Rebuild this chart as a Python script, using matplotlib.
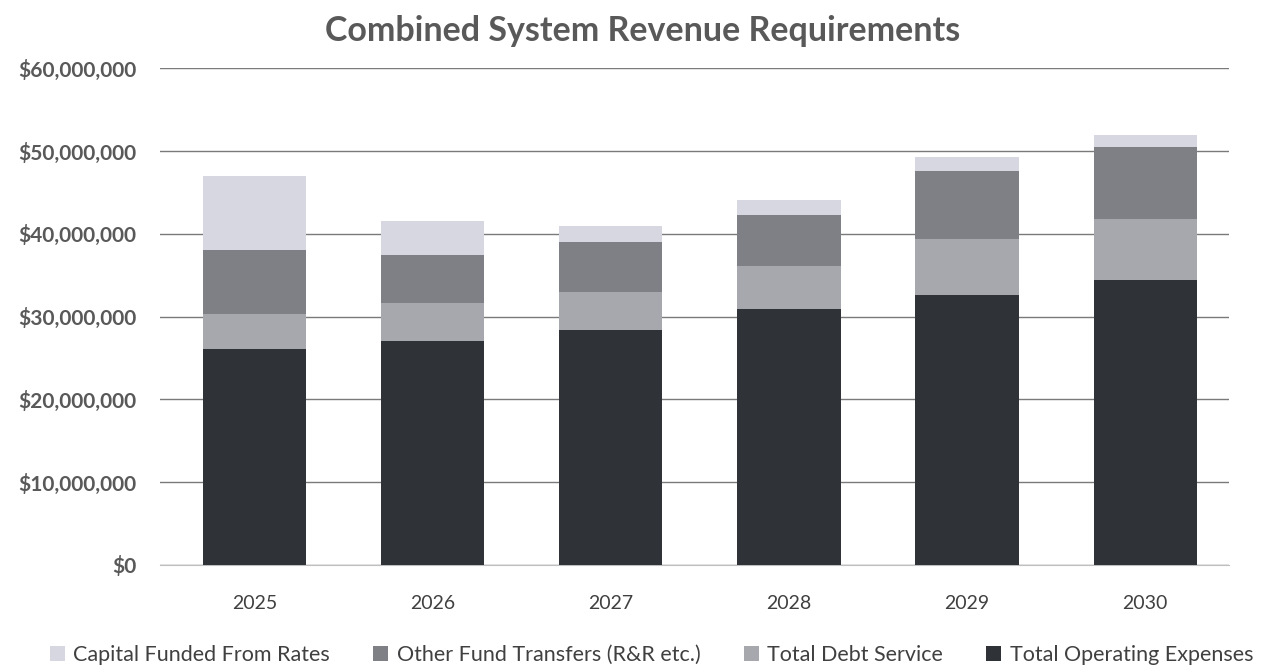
import matplotlib.pyplot as plt
import numpy as np

plt.rcParams['font.family'] = ['Lato', 'DejaVu Sans']

years = ["2025", "2026", "2027", "2028", "2029", "2030"]

# stacked components, in $ millions
operating = [26.1, 27.1, 28.4, 30.9, 32.6, 34.4]
debt_service = [4.2, 4.6, 4.6, 5.2, 6.8, 7.4]
other_transfers = [7.8, 5.8, 6.0, 6.2, 8.2, 8.7]
capital = [8.85, 4.0, 1.9, 1.8, 1.65, 1.5]

labels = ["Capital Funded From Rates", "Other Fund Transfers (R&R etc.)",
          "Total Debt Service", "Total Operating Expenses"]
colors = ["#d7d7e1", "#7f7f86", "#a7a7ae", "#2f3237"]

fig = plt.figure(figsize=(12.65, 6.7), dpi=100)
ax = fig.add_axes([0.1265, 0.157, 0.845, 0.741])

x = np.arange(len(years))
w = 0.58
scale = 1e6

op = np.array(operating) * scale
ds = np.array(debt_service) * scale
ot = np.array(other_transfers) * scale
cp = np.array(capital) * scale

b_op = ax.bar(x, op, w, color=colors[3], zorder=3)
b_ds = ax.bar(x, ds, w, bottom=op, color=colors[2], zorder=3)
b_ot = ax.bar(x, ot, w, bottom=op + ds, color=colors[1], zorder=3)
b_cp = ax.bar(x, cp, w, bottom=op + ds + ot, color=colors[0], zorder=3)

ax.set_xlim(-0.53, len(years) - 0.53)
ax.set_ylim(0, 60e6)
ax.set_yticks(np.arange(0, 60e6 + 1, 10e6))
ax.yaxis.set_major_formatter(plt.FuncFormatter(lambda v, p: f"${v:,.0f}"))
ax.set_xticks(x)
ax.set_xticklabels(years)

ax.grid(axis="y", color="#7a7a7a", linewidth=1.0, zorder=0)
for side in ["top", "right", "left"]:
    ax.spines[side].set_visible(False)
ax.spines["bottom"].set_color("#bfbfbf")
ax.tick_params(axis="y", length=0, pad=24, labelsize=15, labelcolor="#595959")
ax.tick_params(axis="x", length=0, pad=22, labelsize=14, labelcolor="#404040")
for t in ax.get_yticklabels():
    t.set_fontweight("bold")
    t.set_x(0.0)
ax.yaxis.set_tick_params(pad=17)

fig.text(0.508, 0.953, "Combined System Revenue Requirements", ha="center",
         va="center", fontsize=24.5, fontweight="bold", color="#595959")

fig.legend([b_cp, b_ot, b_ds, b_op], labels, loc="center", ncol=4,
           bbox_to_anchor=(0.515, 0.022), frameon=False, fontsize=15.5,
           handlelength=0.7, handleheight=0.7, columnspacing=2.0,
           handletextpad=0.4, labelcolor="#404040")

fig.savefig("out.png", dpi=100)
